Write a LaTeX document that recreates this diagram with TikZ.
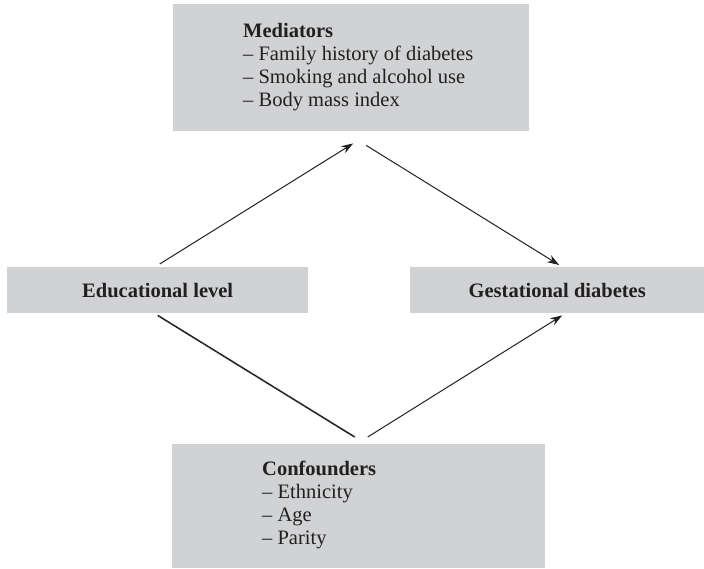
\documentclass[tikz,border=0pt]{standalone}
\usepackage{fontspec}
\setmainfont{Liberation Serif}
\usetikzlibrary{arrows.meta,positioning}
\definecolor{boxgray}{HTML}{D1D2D4}
\definecolor{ink}{HTML}{231F20}
\begin{document}
\begin{tikzpicture}[x=1pt, y=-1pt, >={Stealth[length=12pt,width=8pt]}, font=\fontsize{20.5}{23}\selectfont, text=ink,
  box/.style={fill=boxgray, inner sep=0pt, anchor=north west},
  list/.style={align=left, anchor=north west, inner sep=0pt},
  link/.style={draw=ink, line width=1pt, ->}]
\useasboundingbox (0,0) rectangle (704,568);
% boxes
\node[box, minimum width=356pt, minimum height=127pt] (med) at (173,4) {};
\node[box, minimum width=301pt, minimum height=46pt] (edu) at (7,267) {\textbf{Educational level}};
\node[box, minimum width=294pt, minimum height=46pt] (gd) at (410,267) {\textbf{Gestational diabetes}};
\node[box, minimum width=373pt, minimum height=124pt] (conf) at (172,444) {};
% lists
\node[list] (medtxt) at (243,23) {\textbf{Mediators}\\-- Family history of diabetes\\-- Smoking and alcohol use\\-- Body mass index};
\node[list] (conftxt) at (262,461) {\textbf{Confounders}\\-- Ethnicity\\-- Age\\-- Parity};
% connectors
\draw[link] ([shift={(2,-3)}]edu.north) -- ([shift={(2,12)}]med.south);
\draw[link] ([shift={(15,14)}]med.south) -- ([shift={(2,-2)}]gd.north);
\draw[link] ([shift={(9,-7)}]conf.north) -- ([shift={(5,2)}]gd.south);
\draw[draw=ink, line width=1.6pt, dash pattern=on 2pt off 0.4pt] ([shift={(0,2)}]edu.south) -- ([shift={(-4,-7)}]conf.north);
\end{tikzpicture}
\end{document}
